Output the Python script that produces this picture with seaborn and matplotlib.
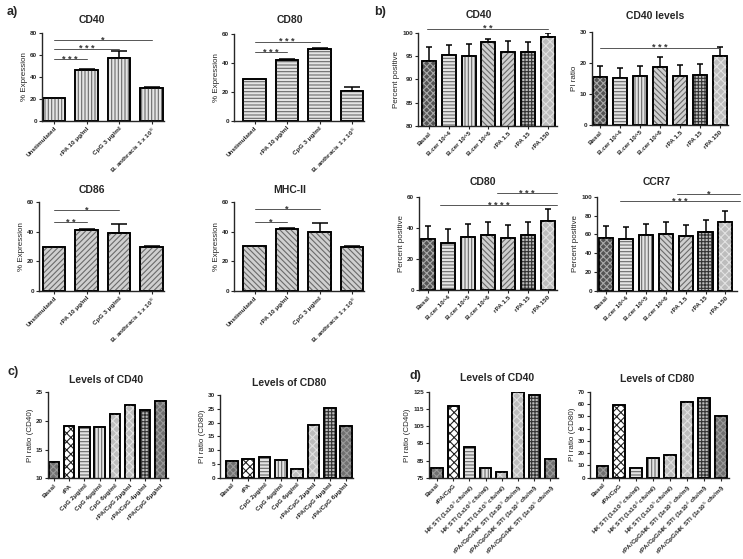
import numpy as np
import matplotlib
matplotlib.use('Agg')
import matplotlib.pyplot as plt
from matplotlib.patches import Rectangle
import seaborn as sns

# ---- data ----
a_labels = ['Unstimulated', 'rPA 10 μg/ml', 'CpG 3 μg/ml', r'B. anthracis 1 x 10$^{8}$']
a_cd40 = [21.0, 46.5, 57.0, 30.2]
a_cd40_err = [0, 0.6, 6.5, 0.6]
a_cd80 = [29.0, 42.3, 49.6, 20.5]
a_cd80_err = [0, 0.4, 0.8, 3.0]
a_cd86 = [29.5, 41.2, 39.5, 29.5]
a_cd86_err = [0, 0.5, 6.0, 0.5]
a_mhc = [30.2, 42.2, 40.0, 29.5]
a_mhc_err = [0, 0.4, 5.8, 0.7]

b_labels = ['Basal', 'B.cer 10^4', 'B.cer 10^5', 'B.cer 10^6', 'rPA 1.5', 'rPA 15', 'rPA 150']
b_cd40 = [94.0, 95.2, 95.1, 97.9, 95.8, 95.8, 99.1]
b_cd40_err = [3.0, 2.2, 2.4, 0.7, 2.4, 2.3, 0.9]
b_cd40_pi = [15.5, 15.0, 15.9, 18.6, 15.8, 16.1, 22.3]
b_cd40_pi_err = [3.6, 3.4, 3.2, 3.3, 3.6, 3.4, 2.8]
b_cd80 = [32.8, 30.0, 33.9, 35.1, 33.2, 35.6, 44.6]
b_cd80_err = [8.3, 9.2, 8.5, 8.8, 8.6, 8.3, 7.5]
b_ccr7 = [56.0, 55.4, 59.0, 60.7, 57.9, 62.5, 72.9]
b_ccr7_err = [13.3, 12.5, 12.4, 12.2, 12.5, 13.2, 11.7]

c_labels = ['Basal', 'rPA', 'CpG 2μg/ml', 'CpG 4μg/ml', 'CpG 6μg/ml',
            'rPA/CpG 2μg/ml', 'rPA/CpG 4μg/ml', 'rPA/CpG 6μg/ml']
c_cd40 = [12.9, 19.2, 18.9, 19.0, 21.2, 22.7, 22.0, 23.5]
c_cd80 = [6.0, 6.7, 7.6, 6.4, 3.2, 19.1, 25.3, 18.6]

d_labels = ['Basal', 'rPA/CpG',
            r'HK STI (1x10$^{3}$ cfu/ml)', r'HK STI (1x10$^{4}$ cfu/ml)', r'HK STI (1x10$^{5}$ cfu/ml)',
            r'rPA/CpG/HK STI (1x10$^{3}$ cfu/ml)', r'rPA/CpG/HK STI (1x10$^{4}$ cfu/ml)',
            r'rPA/CpG/HK STI (1x10$^{5}$ cfu/ml)']
d_cd40 = [80.8, 117.0, 93.1, 80.8, 78.5, 124.8, 123.3, 85.7]
d_cd80 = [9.5, 59.2, 8.1, 16.3, 18.5, 61.4, 64.6, 50.2]

# ---- bar fill styles: (face, hatch, hatch colour) ----
VL = ('#e4e4e4', '|||||', '#6a6a6a')
HL = ('#e4e4e4', '-----', '#6a6a6a')
D1 = ('#cfcfcf', '//////', '#6a6a6a')
D2 = ('#cfcfcf', '\\\\\\\\\\\\', '#6a6a6a')
CHK_DARK = ('#555555', 'xxxxx', '#aaaaaa')
CHK_BW = ('white', 'xxxx', '#222222')
GRID = ('#bcbcbc', '+++++', '#333333')
DOT_LIGHT = ('#bdbdbd', 'xxxx', '#e2e2e2')
DOT_DARK = ('#707070', 'xxxxx', '#9a9a9a')

b_styles = [CHK_DARK, HL, VL, D2, D1, GRID, DOT_LIGHT]
c_styles = [DOT_DARK, CHK_BW, HL, VL, DOT_LIGHT, DOT_LIGHT, GRID, DOT_DARK]

sns.set_style('ticks')
plt.rcParams['font.family'] = ['Liberation Sans', 'DejaVu Sans']
plt.rcParams['hatch.linewidth'] = 0.8

W, H = 743, 559
fig = plt.figure(figsize=(W / 100, H / 100), dpi=100)


def bar_panel(box, labels, vals, errs, styles, width, capsize, ylim, yticks,
              title, title_xy, ylabel, sigs=(), tick_fs=4.6):
    spine, right, top, bottom, c0, step = box
    ax = fig.add_axes([spine / W, 1 - bottom / H, (right - spine) / W, (bottom - top) / H])
    sns.barplot(x=labels, y=vals, ax=ax, color='white', width=width,
                edgecolor='black', linewidth=1.2, errorbar=None, zorder=2)
    for patch, (face, hatch, hc) in zip(list(ax.patches), styles):
        patch.set_facecolor(face)
        xy, w, h = (patch.get_x(), patch.get_y()), patch.get_width(), patch.get_height()
        ax.add_patch(Rectangle(xy, w, h, facecolor='none', edgecolor=hc, hatch=hatch, lw=0, zorder=2.1))
        ax.add_patch(Rectangle(xy, w, h, fill=False, edgecolor='black', lw=1.2, zorder=2.2))
    if errs is not None:
        idx = [i for i, e in enumerate(errs) if e > 0]
        ax.errorbar(idx, [vals[i] for i in idx], yerr=[[0] * len(idx), [errs[i] for i in idx]],
                    fmt='none', ecolor='black', elinewidth=1.1, capsize=capsize,
                    capthick=1.1, zorder=1.5)
    ax.set_xlim((spine - c0) / step, (right - c0) / step)
    ax.set_ylim(*ylim)
    ax.set_yticks(yticks)
    sns.despine(ax=ax)
    for s in ('left', 'bottom'):
        ax.spines[s].set_linewidth(1.0)
    ax.tick_params(direction='out', length=2.5, width=0.8, labelsize=tick_fs, pad=1)
    for lab in ax.get_yticklabels():
        lab.set_fontweight('bold')
    ax.set_xticks(range(len(labels)))
    ax.set_xticklabels(labels, rotation=45, ha='right', rotation_mode='anchor',
                       fontsize=tick_fs, fontweight='bold')
    ax.set_xlabel('')
    ax.set_ylabel(ylabel, fontsize=5.8, labelpad=1.5)
    for x0, x1, y, stars in sigs:
        ax.plot([x0, x1], [y, y], color='#555555', lw=0.7, clip_on=False, zorder=4)
        ax.annotate(' '.join(stars), ((x0 + x1) / 2, y), xytext=(0, -1.8),
                    textcoords='offset points', ha='center', va='baseline',
                    fontsize=6.5, fontweight='bold', color='#333333', annotation_clip=False)
    fig.text(title_xy[0] / W, 1 - title_xy[1] / H, title, ha='center', va='center',
             fontsize=7.5, fontweight='bold')
    return ax


# ---- a) ----
fig.text(7 / W, 1 - 12 / H, 'a)', fontsize=9, fontweight='bold', va='center')
bar_panel((42, 164, 33, 121, 54, 32.5), a_labels, a_cd40, a_cd40_err, [VL] * 4, 0.68, 5.5,
          (0, 80), [0, 20, 40, 60, 80], 'CD40', (92, 20), '% Expression',
          [(0, 1, 56, '***'), (0, 2, 65.7, '***'), (0, 3, 74, '*')])
bar_panel((234, 364, 34.3, 120.7, 254.5, 32.5), a_labels, a_cd80, a_cd80_err, [HL] * 4, 0.68, 5.5,
          (0, 60), [0, 20, 40, 60], 'CD80', (290, 20), '% Expression',
          [(0, 1, 47.7, '***'), (0, 2, 54.9, '***')])
bar_panel((39, 164, 202.3, 290.7, 54, 32.5), a_labels, a_cd86, a_cd86_err, [D1] * 4, 0.68, 5.5,
          (0, 60), [0, 20, 40, 60], 'CD86', (92, 190), '% Expression',
          [(0, 1, 46.4, '**'), (0, 2, 54.8, '*')])
bar_panel((234, 364, 202.3, 290.7, 254.5, 32.5), a_labels, a_mhc, a_mhc_err, [D2] * 4, 0.68, 5.5,
          (0, 60), [0, 20, 40, 60], 'MHC-II', (290, 190), '% Expression',
          [(0, 1, 46.5, '*'), (0, 2, 55.3, '*')])

# ---- b) ----
fig.text(374 / W, 1 - 12 / H, 'b)', fontsize=9, fontweight='bold', va='center')
bar_panel((418, 557, 32.7, 126, 429, 19.8), b_labels, b_cd40, b_cd40_err, b_styles, 0.71, 2.5,
          (80, 100), [80, 85, 90, 95, 100], 'CD40', (479, 15), 'Percent positive',
          [(-0.1, 6.0, 100.9, '**')])
bar_panel((592, 728, 31.7, 125, 600, 20), b_labels, b_cd40_pi, b_cd40_pi_err, b_styles, 0.71, 2.5,
          (0, 30), [0, 10, 20, 30], 'CD40 levels', (655, 16), 'PI ratio',
          [(0, 6, 24.9, '***')])
bar_panel((419, 557, 196.7, 290, 428, 20), b_labels, b_cd80, b_cd80_err, b_styles, 0.71, 2.5,
          (0, 60), [0, 20, 40, 60], 'CD80', (483, 182), 'Percent positive',
          [(0.6, 6.45, 54.6, '****'), (3.43, 6.45, 62.1, '***')])
bar_panel((597, 737, 197, 290.7, 606, 19.9), b_labels, b_ccr7, b_ccr7_err, b_styles, 0.71, 2.5,
          (0, 100), [0, 20, 40, 60, 80, 100], 'CCR7', (657, 182), 'Percent positive',
          [(0.7, 6.73, 95.4, '***'), (3.55, 6.73, 103.2, '*')])

# ---- c) ----
fig.text(8 / W, 1 - 372 / H, 'c)', fontsize=9, fontweight='bold', va='center')
bar_panel((48, 168, 392.3, 478.3, 54, 15.2), c_labels, c_cd40, None, c_styles, 0.69, 0,
          (10, 25), [10, 15, 20, 25], 'Levels of CD40', (106, 380), 'PI ratio (CD40)')
bar_panel((220, 353, 395, 477.7, 232, 16.3), c_labels, c_cd80, None, c_styles, 0.72, 0,
          (0, 30), [0, 5, 10, 15, 20, 25, 30], 'Levels of CD80', (289, 383), 'PI ratio (CD80)')

# ---- d) ----
fig.text(410 / W, 1 - 376 / H, 'd)', fontsize=9, fontweight='bold', va='center')
bar_panel((429, 558, 392, 477.7, 437, 16.2), d_labels, d_cd40, None, c_styles, 0.7, 0,
          (75, 125), [75, 85, 95, 105, 115, 125], 'Levels of CD40', (497, 378), 'PI ratio (CD40)')
bar_panel((590, 729, 391.7, 477.7, 602.5, 16.9), d_labels, d_cd80, None, c_styles, 0.7, 0,
          (0, 70), [0, 10, 20, 30, 40, 50, 60, 70], 'Levels of CD80', (657, 379), 'PI ratio (CD80)')

fig.savefig('out.png', dpi=100, facecolor='white')
